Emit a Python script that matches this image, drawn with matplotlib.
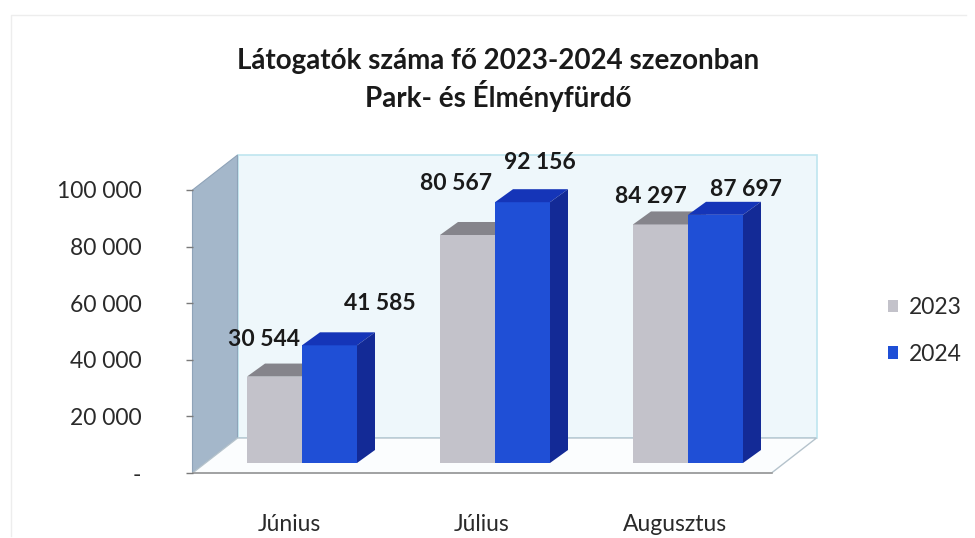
import matplotlib
matplotlib.use("Agg")
import matplotlib.pyplot as plt
from matplotlib.patches import Polygon, Patch
from matplotlib.lines import Line2D

plt.rcParams['font.family'] = ['Lato', 'DejaVu Sans']

# data
months = ["Június", "Július", "Augusztus"]
visitors_2023 = [30544, 80567, 84297]
visitors_2024 = [41585, 92156, 87697]
series_names = ["2023", "2024"]
y_ticks = [0, 20000, 40000, 60000, 80000, 100000]
y_tick_labels = ["-", "20 000", "40 000", "60 000", "80 000", "100 000"]

# styling / geometry (pixels of the 975x538 canvas)
PX_X = 193.0            # px per category
PX_Y = 283.0 / 100000   # px per visitor
grey_front, grey_top, grey_side = "#c3c2ca", "#85848b", "#9d9ca4"
blue_front, blue_top, blue_side = "#1f4fd6", "#1535b8", "#132a96"
label_nudge_px = [[(-10, 37), (-11, 51), (-10, 28)],
                  [(50, 42), (17, 40), (30, 25)]]

def ux(px):
    return px / PX_X

def uy(px):
    return px / PX_Y

fig = plt.figure(figsize=(9.75, 5.38), dpi=100)
W, H = 975, 538
x_lo, x_hi = -0.65, 2.85
y_lo, y_hi = -12000, 116000
left_px = 289 + PX_X * x_lo
right_px = 289 + PX_X * x_hi
bot_px = 473 - PX_Y * y_lo
top_px = 473 - PX_Y * y_hi
ax = fig.add_axes([left_px / W, 1 - bot_px / H, (right_px - left_px) / W, (bot_px - top_px) / H])
ax.set_xlim(x_lo, x_hi)
ax.set_ylim(y_lo, y_hi)
ax.patch.set_alpha(0)
for s in ax.spines.values():
    s.set_visible(False)

n = len(months)
DX, DY = ux(45), uy(35)      # wall depth
x0, x1 = -0.5, n - 0.5
ymax = y_ticks[-1]

# back wall, left wall, floor
ax.add_patch(Polygon([(x0 + DX, DY), (x1 + DX, DY), (x1 + DX, DY + ymax), (x0 + DX, DY + ymax)],
                     closed=True, fc="#eef7fb", ec="#bfe5ef", lw=1.2, zorder=1))
ax.add_patch(Polygon([(x0, 0), (x0 + DX, DY), (x0 + DX, DY + ymax), (x0, ymax)],
                     closed=True, fc="#a4b7ca", ec="#8fa3b8", lw=0.8, zorder=2))
ax.add_patch(Polygon([(x0, 0), (x1, 0), (x1 + DX, DY), (x0 + DX, DY)],
                     closed=True, fc="#fbfdfe", ec="#b5c3cc", lw=1.0, zorder=2))
ax.plot([x0, x1], [0, 0], color="#9a9a9a", lw=1.2, zorder=3)
ax.hlines(y_ticks, x0 - ux(7), x0, color="#7a7a7a", lw=1.0, zorder=3)

# bars
bdx, bdy = ux(13), uy(10)    # bars sit slightly behind the front edge
w = ux(55)
ddx, ddy = ux(18), uy(13)    # bar depth
xs = list(range(n))

def draw_bars(vals, offset, fc, tc, sc):
    lefts = [x + bdx + offset for x in xs]
    ax.bar(lefts, vals, width=w, bottom=bdy, align="edge", color=fc, zorder=5)
    for l, v in zip(lefts, vals):
        t = bdy + v
        ax.add_patch(Polygon([(l, t), (l + w, t), (l + w + ddx, t + ddy), (l + ddx, t + ddy)],
                             closed=True, fc=tc, ec="none", zorder=5))
        ax.add_patch(Polygon([(l + w, bdy), (l + w + ddx, bdy + ddy), (l + w + ddx, t + ddy), (l + w, t)],
                             closed=True, fc=sc, ec="none", zorder=5))
    return lefts

g_left = draw_bars(visitors_2023, -w, grey_front, grey_top, grey_side)
b_left = draw_bars(visitors_2024, 0, blue_front, blue_top, blue_side)

for k, (lefts, vals) in enumerate([(g_left, visitors_2023), (b_left, visitors_2024)]):
    for i, (l, v) in enumerate(zip(lefts, vals)):
        nx, ny = label_nudge_px[k][i]
        ax.annotate(f"{v:,}".replace(",", " "), (l + w / 2, bdy + v),
                    xytext=(nx * 0.72, ny * 0.72), textcoords="offset points",
                    ha="center", va="center", fontsize=16.5, fontweight="bold",
                    color="#1a1a1a", zorder=7)

ax.set_yticks(y_ticks)
ax.set_yticklabels(y_tick_labels, fontsize=16.5, color="#2a2a2a")
ax.tick_params(axis="y", length=0, pad=16)
ax.set_xticks(xs)
ax.set_xticklabels(months, fontsize=16.5, color="#2a2a2a")
ax.tick_params(axis="x", length=0, pad=5)

fig.text(0.511, 0.886, "Látogatók száma fő 2023-2024 szezonban", ha="center", va="center",
         fontsize=20, fontweight="bold", color="#1a1a1a")
fig.text(0.511, 0.822, "Park- és Élményfürdő", ha="center", va="center",
         fontsize=20, fontweight="bold", color="#1a1a1a")

handles = [Patch(fc=grey_front, ec="none"), Patch(fc=blue_front, ec="none")]
fig.legend(handles, series_names, loc="center left", bbox_to_anchor=(872 / W, 1 - 331 / H),
           frameon=False, fontsize=16.5, handlelength=0.45, handleheight=0.45,
           handletextpad=0.45, labelspacing=1.1, labelcolor="#2a2a2a", borderpad=0.2)

# faint chart-area frame (only left and top edges show in the scan)
fig.lines.append(Line2D([11 / W, 11 / W, 966 / W], [1 - 536 / H, 1 - 15 / H, 1 - 15 / H],
                        transform=fig.transFigure, color="#ededed", lw=1.0))

fig.savefig("out.png", dpi=100, facecolor="white")
